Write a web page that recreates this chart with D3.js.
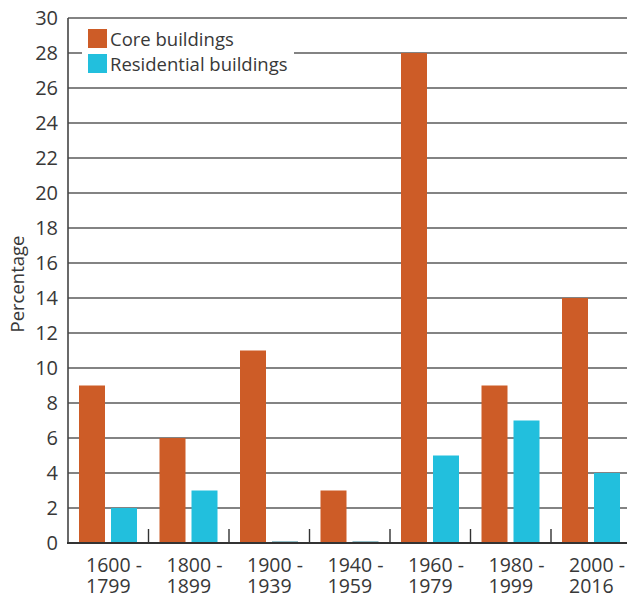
<!DOCTYPE html>
<html><head><meta charset="utf-8">
<script src="https://cdn.jsdelivr.net/npm/d3@7"></script>
<style>
html,body{margin:0;padding:0;background:#fff;}
svg{display:block;font-family:"Open Sans",sans-serif;font-weight:400;}
</style></head>
<body><svg id="c" width="627" height="595"></svg>
<script>
const periodsLine1 = ["1600 -","1800 -","1900 -","1940 -","1960 -","1980 -","2000 -"];
const periodsLine2 = ["1799","1899","1939","1959","1979","1999","2016"];
const seriesNames = ["Core buildings","Residential buildings"];
const coreValues = [9, 6, 11, 3, 28, 9, 14];
const residentialValues = [2, 3, 0, 0, 5, 7, 4];
const yTicks = [0,2,4,6,8,10,12,14,16,18,20,22,24,26,28,30];
const colors = ["#CD5C27","#22BFDD"];

(function(){
const svg = d3.select("#c");
const mLeft = 68, mTop = 18, mBottom = 543, mRight = 627;
const step = 80.5;
const x = d3.scaleBand().domain(d3.range(periodsLine1.length)).range([mLeft, mLeft + step*periodsLine1.length]).padding(0);
const xi = d3.scaleBand().domain([0,1]).range([11, 69]).paddingInner(0.1875).paddingOuter(0);
const y = d3.scaleLinear().domain([0,30]).range([mBottom, mTop]);

// gridlines
svg.append("g").selectAll("line").data(yTicks.filter(d=>d>0)).join("line")
  .attr("x1", mLeft).attr("x2", mRight)
  .attr("y1", d=>y(d)).attr("y2", d=>y(d))
  .attr("stroke", "#5a5a5a").attr("stroke-width", 1.4);

// y tick labels
svg.append("g").selectAll("text").data(yTicks).join("text")
  .attr("x", 58).attr("y", d=>y(d)).attr("dy","0.36em")
  .attr("text-anchor","end").attr("font-size",20).attr("fill","#383838")
  .text(d=>d);

// y label
svg.append("text").attr("transform","translate(24,284) rotate(-90)")
  .attr("text-anchor","middle").attr("font-size",18.5).attr("fill","#383838")
  .text("Percentage");

// bars
const data = periodsLine1.map((p,i)=>[coreValues[i], residentialValues[i]]);
const groups = svg.append("g").selectAll("g").data(data).join("g")
  .attr("transform",(d,i)=>`translate(${x(i)},0)`);
groups.selectAll("rect").data(d=>d.map((v,k)=>({v,k}))).join("rect")
  .attr("x", d=>xi(d.k)).attr("width", xi.bandwidth())
  .attr("y", d=> d.v===0 ? y(0)-1.5 : y(d.v))
  .attr("height", d=> d.v===0 ? 1.5 : y(0)-y(d.v))
  .attr("fill", d=> d.v===0 ? "#2a7f8f" : colors[d.k]);

// category separator ticks
svg.append("g").selectAll("line").data(d3.range(1, periodsLine1.length)).join("line")
  .attr("x1", d=>x(d)).attr("x2", d=>x(d))
  .attr("y1", mBottom-14).attr("y2", mBottom)
  .attr("stroke","#333").attr("stroke-width",1.4);

// axes lines
svg.append("line").attr("x1",mLeft).attr("x2",mLeft).attr("y1",mTop).attr("y2",mBottom)
  .attr("stroke","#444").attr("stroke-width",1.6);
svg.append("line").attr("x1",mLeft-1).attr("x2",mRight).attr("y1",mBottom).attr("y2",mBottom)
  .attr("stroke","#333").attr("stroke-width",2);

// x labels
const xl = svg.append("g").selectAll("text").data(periodsLine1).join("text")
  .attr("font-size",19.5).attr("fill","#383838");
xl.append("tspan").attr("x",(d,i)=>x(i)+18).attr("y",572).text(d=>d);
xl.append("tspan").attr("x",(d,i)=>x(i)+18).attr("y",593).text((d,i)=>periodsLine2[i]);

// legend
const lg = svg.append("g");
lg.append("rect").attr("x",82).attr("y",20).attr("width",212).attr("height",64).attr("fill","#fff");
seriesNames.forEach((n,k)=>{
  lg.append("rect").attr("x",88).attr("y",29+k*25).attr("width",19).attr("height",19).attr("fill",colors[k]);
  lg.append("text").attr("x",110).attr("y",39+k*25).attr("dy","0.36em")
    .attr("font-size",18.5).attr("fill","#383838").text(n);
});
})();
</script></body></html>
